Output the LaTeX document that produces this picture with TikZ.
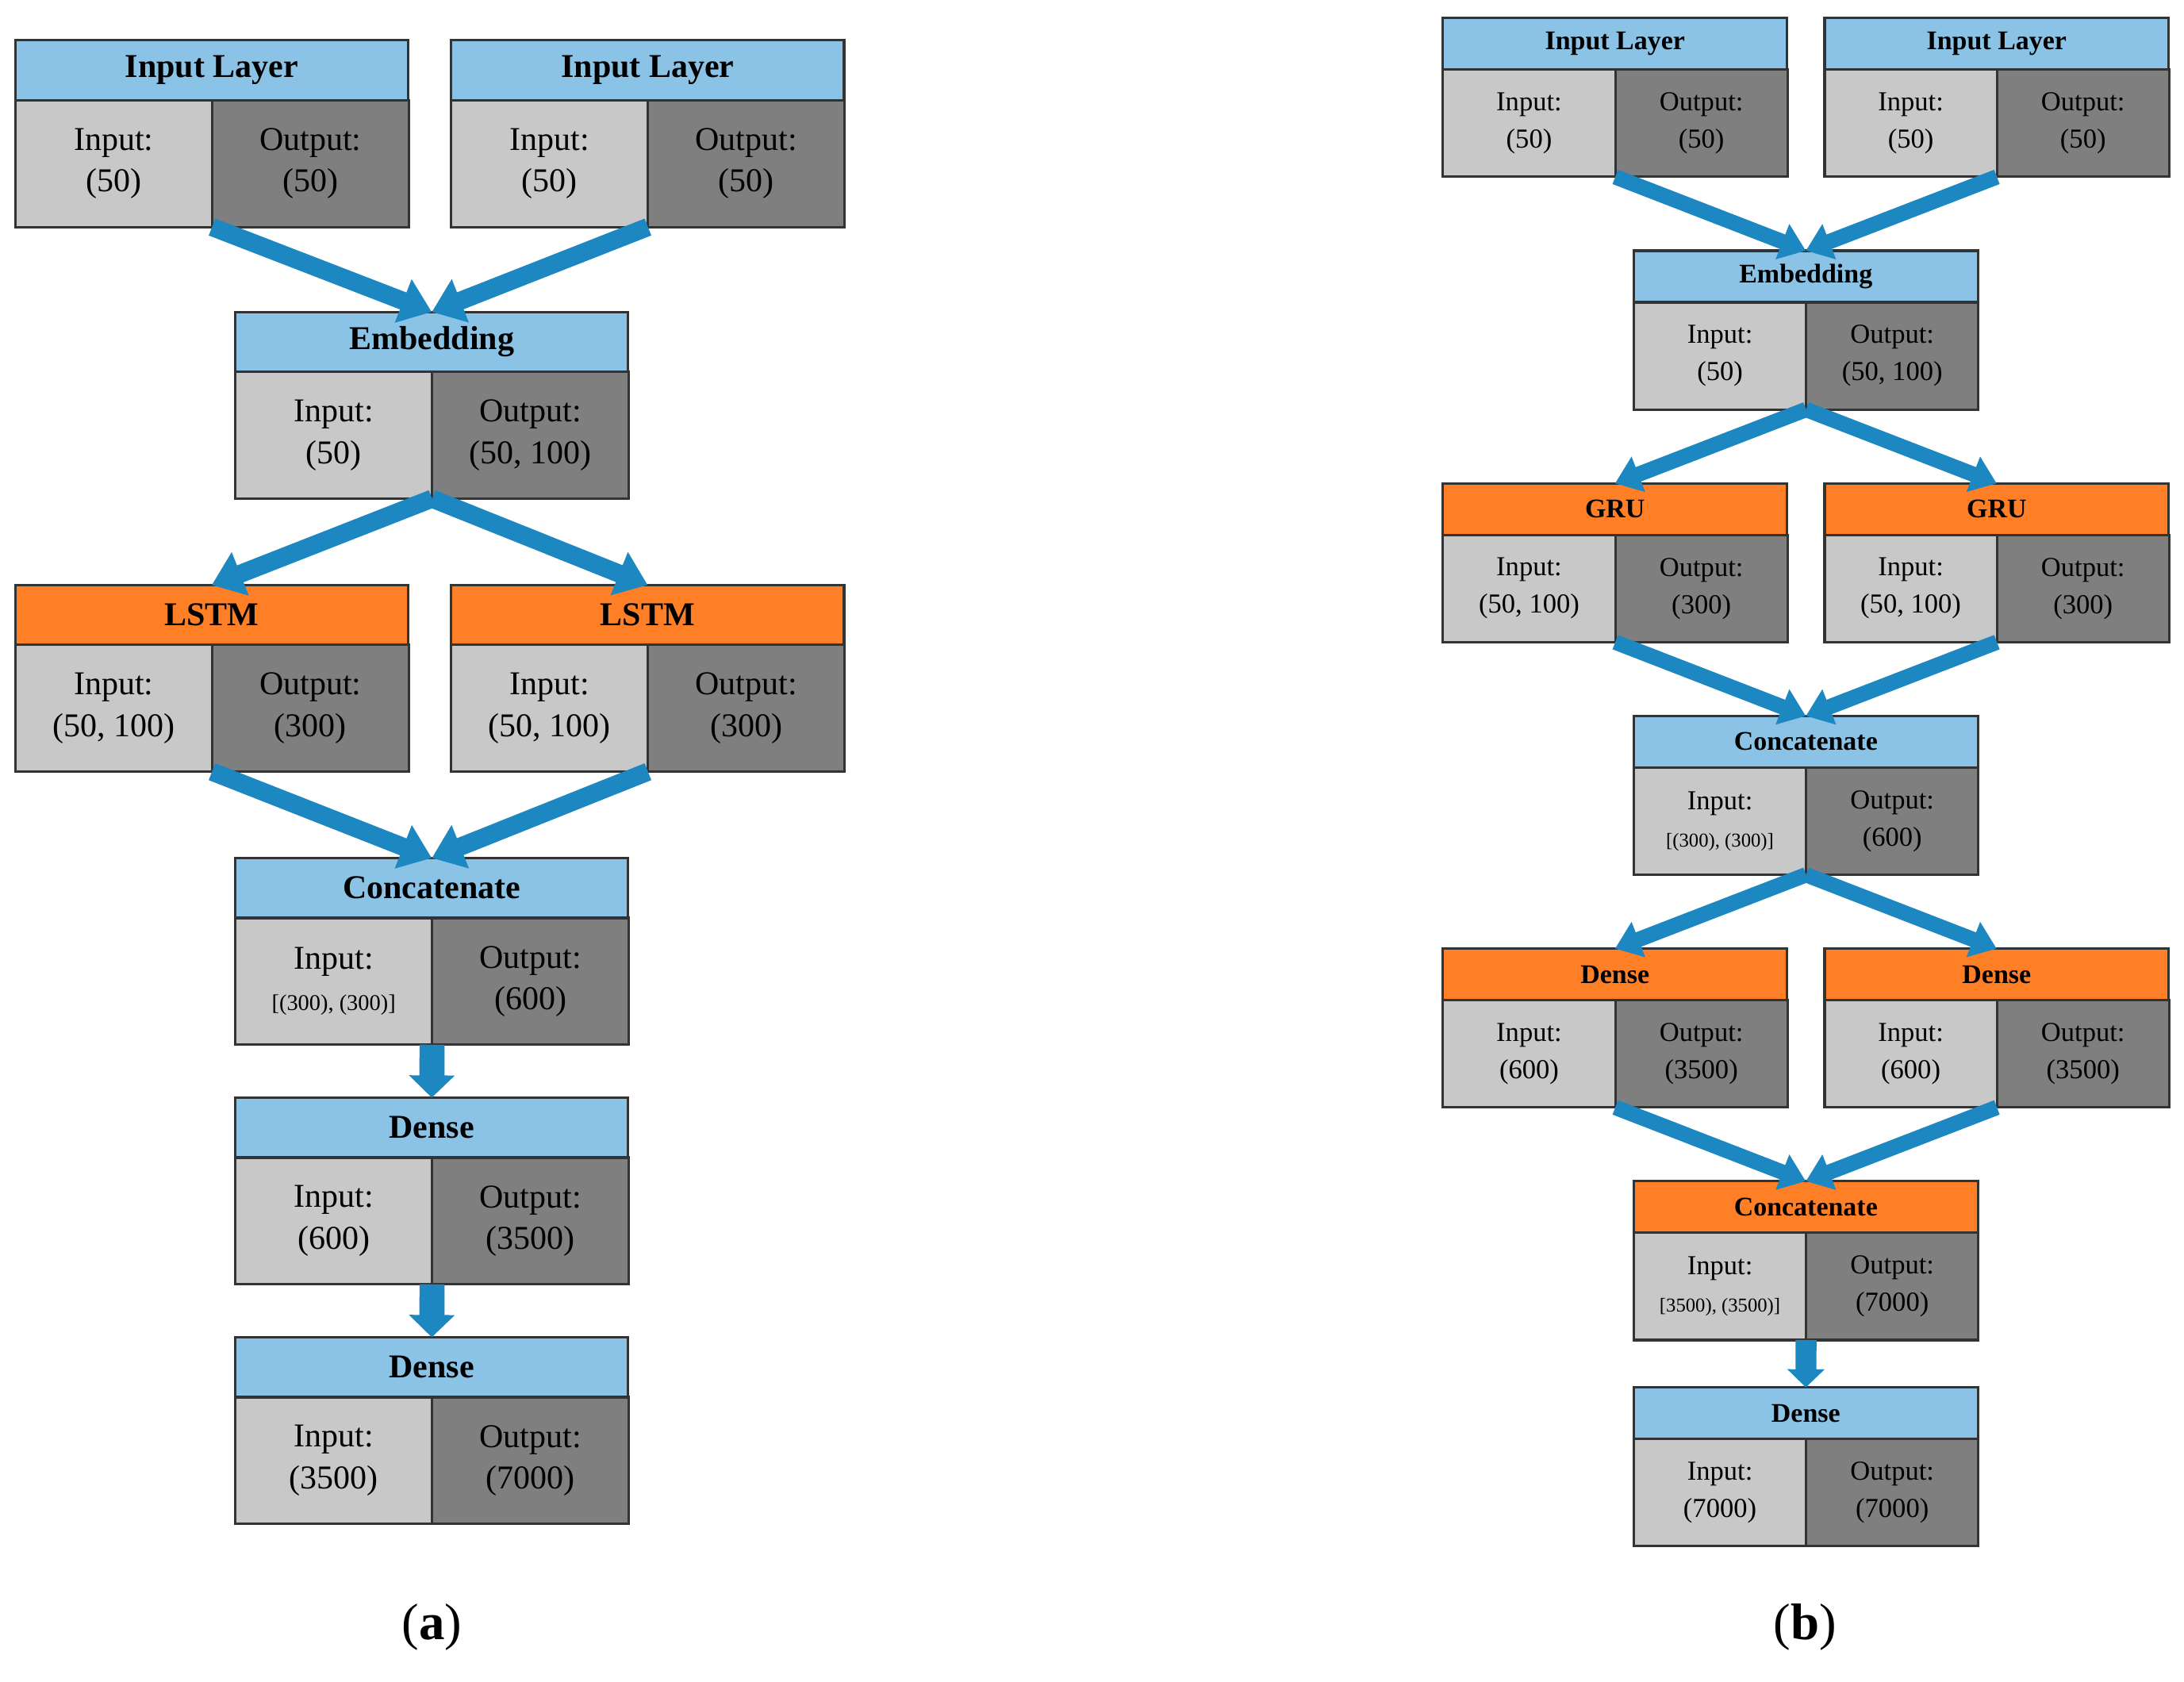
\documentclass[tikz,border=0pt]{standalone}
\usepackage{fontspec}
\setmainfont{Liberation Serif}
\usetikzlibrary{arrows.meta}
\definecolor{hb}{HTML}{8BC3E6}
\definecolor{ho}{HTML}{FF7F27}
\definecolor{lg}{HTML}{C8C8C8}
\definecolor{dg}{HTML}{7F7F7F}
\definecolor{ab}{HTML}{1C87C0}
\def\wa{282}\def\hha{43}\def\bha{91}
\def\wb{247}\def\hhb{37}\def\bhb{77}
\tikzset{
 box/.style={draw=black!80,line width=0.5pt,inner sep=0pt,outer sep=0pt,anchor=north west,align=center},
 hdra/.style={box,font=\fontsize{6.8}{8}\selectfont\bfseries},
 hdrb/.style={box,font=\fontsize{5.5}{6.5}\selectfont\bfseries},
 bdya/.style={box,font=\fontsize{6.8}{8.5}\selectfont},
 bdyb/.style={box,font=\fontsize{5.6}{7.6}\selectfont},
 arra/.style={draw=ab,line width=0.13cm,-{Triangle[length=0.22cm,width=0.32cm]}},
 arrb/.style={draw=ab,line width=0.11cm,-{Triangle[length=0.18cm,width=0.26cm]}},
 arrv/.style={draw=ab,line width=0.18cm,-{Triangle[length=0.16cm,width=0.32cm]}},
 arrvb/.style={draw=ab,line width=0.15cm,-{Triangle[length=0.13cm,width=0.26cm]}},
}
\newcommand\lyr[8]{%
 \edef\W{\csname w#4\endcsname}\edef\HH{\csname hh#4\endcsname}\edef\BH{\csname bh#4\endcsname}%
 \node[hdr#4,fill=#5,minimum width=\W*0.01cm,minimum height=\HH*0.01cm] (#1) at (#2,#3) {#6};
 \node[bdy#4,fill=lg,minimum width=\W*0.005cm,minimum height=\BH*0.01cm] (#1i) at (#1.south west) {#7};
 \node[bdy#4,fill=dg,minimum width=\W*0.005cm,minimum height=\BH*0.01cm] (#1o) at (#1i.north east) {#8};
}
\begin{document}
\begin{tikzpicture}[x=0.01cm,y=-0.01cm]
\useasboundingbox (0,0) rectangle (1568,1207);
% panel a
\lyr{a1}{11}{29}{a}{hb}{Input Layer}{Input:\\(50)}{Output:\\(50)}
\lyr{a2}{324}{29}{a}{hb}{Input Layer}{Input:\\(50)}{Output:\\(50)}
\lyr{ae}{169}{224}{a}{hb}{Embedding}{Input:\\(50)}{Output:\\(50, 100)}
\lyr{al1}{11}{420}{a}{ho}{LSTM}{Input:\\(50, 100)}{Output:\\(300)}
\lyr{al2}{324}{420}{a}{ho}{LSTM}{Input:\\(50, 100)}{Output:\\(300)}
\lyr{ac}{169}{616}{a}{hb}{Concatenate}{Input:\\{\fontsize{4.6}{6}\selectfont[(300), (300)]}}{Output:\\(600)}
\lyr{ad1}{169}{788}{a}{hb}{Dense}{Input:\\(600)}{Output:\\(3500)}
\lyr{ad2}{169}{960}{a}{hb}{Dense}{Input:\\(3500)}{Output:\\(7000)}
\draw[arra] (a1i.south east) -- (ae.north);
\draw[arra] (a2i.south east) -- (ae.north);
\draw[arra] (aei.south east) -- (al1.north);
\draw[arra] (aei.south east) -- (al2.north);
\draw[arra] (al1i.south east) -- (ac.north);
\draw[arra] (al2i.south east) -- (ac.north);
\draw[arrv] (aci.south east) -- (ad1.north);
\draw[arrv] (ad1i.south east) -- (ad2.north);
\node[font=\fontsize{10.5}{12}\selectfont] (la) at (310,1168) {(\textbf{a})};
% panel b
\lyr{b1}{1036}{13}{b}{hb}{Input Layer}{Input:\\(50)}{Output:\\(50)}
\lyr{b2}{1310}{13}{b}{hb}{Input Layer}{Input:\\(50)}{Output:\\(50)}
\lyr{be}{1173}{180}{b}{hb}{Embedding}{Input:\\(50)}{Output:\\(50, 100)}
\lyr{bg1}{1036}{347}{b}{ho}{GRU}{Input:\\(50, 100)}{Output:\\(300)}
\lyr{bg2}{1310}{347}{b}{ho}{GRU}{Input:\\(50, 100)}{Output:\\(300)}
\lyr{bc}{1173}{514}{b}{hb}{Concatenate}{Input:\\{\fontsize{4}{5}\selectfont[(300), (300)]}}{Output:\\(600)}
\lyr{bd1}{1036}{681}{b}{ho}{Dense}{Input:\\(600)}{Output:\\(3500)}
\lyr{bd2}{1310}{681}{b}{ho}{Dense}{Input:\\(600)}{Output:\\(3500)}
\lyr{bc2}{1173}{848}{b}{ho}{Concatenate}{Input:\\{\fontsize{4}{5}\selectfont[3500), (3500)]}}{Output:\\(7000)}
\lyr{bd3}{1173}{996}{b}{hb}{Dense}{Input:\\(7000)}{Output:\\(7000)}
\draw[arrb] (b1i.south east) -- (be.north);
\draw[arrb] (b2i.south east) -- (be.north);
\draw[arrb] (bei.south east) -- (bg1.north);
\draw[arrb] (bei.south east) -- (bg2.north);
\draw[arrb] (bg1i.south east) -- (bc.north);
\draw[arrb] (bg2i.south east) -- (bc.north);
\draw[arrb] (bci.south east) -- (bd1.north);
\draw[arrb] (bci.south east) -- (bd2.north);
\draw[arrb] (bd1i.south east) -- (bc2.north);
\draw[arrb] (bd2i.south east) -- (bc2.north);
\draw[arrvb] (bc2i.south east) -- (bd3.north);
\node[font=\fontsize{10.5}{12}\selectfont] (lb) at (1296,1168) {(\textbf{b})};
\end{tikzpicture}
\end{document}
